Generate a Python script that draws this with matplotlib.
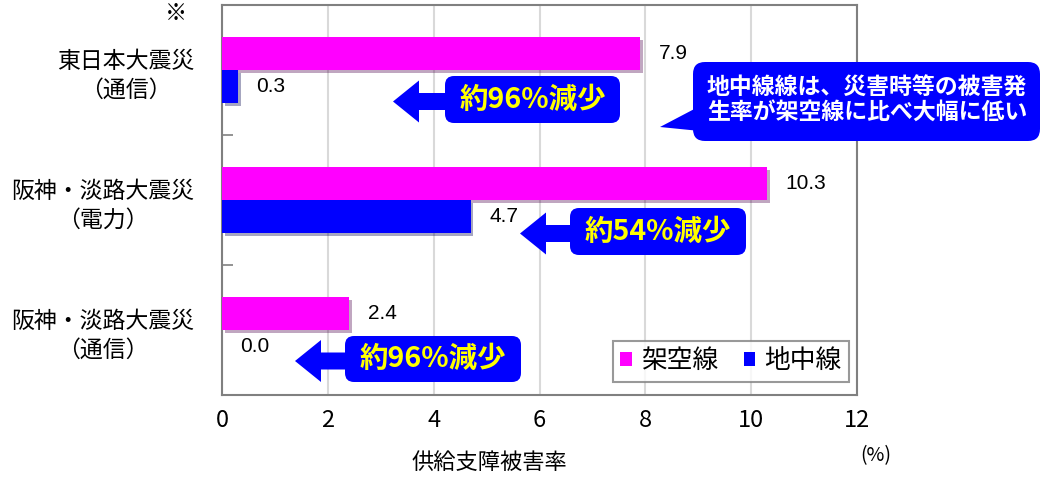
import matplotlib
matplotlib.use("Agg")
import matplotlib.pyplot as plt
from matplotlib.patches import FancyBboxPatch, Polygon
from matplotlib.transforms import IdentityTransform
import matplotlib.patheffects as pe

plt.rcParams['font.family'] = ['Noto Sans CJK JP', 'DejaVu Sans']

categories = ["東日本大震災\n（通信）", "阪神・淡路大震災\n（電力）", "阪神・淡路大震災\n（通信）"]
overhead = [7.9, 10.3, 2.4]     # 架空線
underground = [0.3, 4.7, 0.0]   # 地中線
reductions = ["約96%減少", "約54%減少", "約96%減少"]
series_names = ["架空線", "地中線"]
xticks = [0, 2, 4, 6, 8, 10, 12]

W, H = 1051, 483
fig = plt.figure(figsize=(W / 100, H / 100), dpi=100)
ax = fig.add_axes([222 / W, 1 - 395 / H, (857 - 222) / W, (395 - 5) / H])

MAG = "#FF00FF"
BLU = "#0000FF"
bh = 0.254
ys = list(range(len(categories)))
shadow = [pe.SimplePatchShadow(offset=(2, -2), alpha=0.35), pe.Normal()]
b1 = ax.barh([y - bh / 2 for y in ys], overhead, height=bh, color=MAG, label=series_names[0], zorder=3)
b2 = ax.barh([y + bh / 2 for y in ys], underground, height=bh, color=BLU, label=series_names[1], zorder=3)
for b in list(b1) + list(b2):
    b.set_path_effects(shadow)

for y, v in zip(ys, overhead):
    ax.text(v + 0.35, y - bh / 2, f"{v:.1f}", va="center", ha="left", fontsize=15,
            family="Liberation Sans", zorder=5)
for y, v in zip(ys, underground):
    ax.text(v + 0.35, y + bh / 2, f"{v:.1f}", va="center", ha="left", fontsize=15,
            family="Liberation Sans", zorder=5)

ax.set_xlim(0, 12)
ax.set_ylim(2.5, -0.5)
ax.set_xticks(xticks)
ax.set_xticklabels([str(t) for t in xticks], fontsize=17)
ax.tick_params(axis="x", length=0, pad=10)
ax.set_yticks(ys)
ax.set_yticklabels(categories, fontsize=16.5, linespacing=1.35)
for t in ax.get_yticklabels():
    t.set_multialignment("center")
ax.tick_params(axis="y", which="major", length=0, pad=20)
ax.set_yticks([0.5, 1.5], minor=True)
ax.tick_params(axis="y", which="minor", direction="in", length=8, color="#808080", width=1.2)
ax.grid(axis="x", color="#d9d9d9", linewidth=1.5, zorder=0)
ax.set_axisbelow(True)
for s in ax.spines.values():
    s.set_color("#808080")
    s.set_linewidth(1.5)

fig.text(489 / W, 1 - 462 / H, "供給支障被害率", fontsize=16, ha="center", va="center")
fig.text(876 / W, 1 - 456 / H, "(%)", fontsize=14, ha="center", va="center")
fig.text(176 / W, 1 - 13 / H, "※", fontsize=16, ha="center", va="center")

leg = ax.legend(loc="lower right", bbox_to_anchor=(0.988, 0.033), ncol=2, fontsize=18.5,
                frameon=True, fancybox=False, edgecolor="#808080", handlelength=0.45,
                handleheight=0.45, handletextpad=0.35, columnspacing=1.0, borderpad=0.3,
                borderaxespad=0)
leg.get_frame().set_linewidth(1.5)
for h in leg.legend_handles:
    h.set_path_effects([])

ident = IdentityTransform()

def px(x, y):
    return x, H - y

def arrow(tip_x, cy, end_x):
    pts = [px(tip_x, cy), px(tip_x + 26, cy - 21), px(tip_x + 26, cy - 8.5),
           px(end_x, cy - 8.5), px(end_x, cy + 8.5), px(tip_x + 26, cy + 8.5),
           px(tip_x + 26, cy + 21)]
    fig.patches.append(Polygon(pts, closed=True, transform=ident, fc=BLU, ec="none", zorder=6))

def box(x0, y0, x1, y1, r=9):
    p = FancyBboxPatch((x0 + r, H - y1 + r), (x1 - x0) - 2 * r, (y1 - y0) - 2 * r,
                       boxstyle=f"round,pad={r}", transform=ident, fc=BLU, ec="none", zorder=6)
    fig.patches.append(p)

# reduction annotations
boxes = [(445, 76, 620, 123, 393), (570, 208, 746, 255, 520), (345, 336, 521, 382, 295)]
for (x0, y0, x1, y1, tip), lab in zip(boxes, reductions):
    cy = (y0 + y1) / 2
    arrow(tip, cy + 2, x0 + 2)
    box(x0, y0, x1, y1)
    fig.text((x0 + x1) / 2 / W, 1 - cy / H, lab, fontsize=20.5, fontweight="bold", color="#FFFF00",
             ha="center", va="center", zorder=7)

# callout
box(693, 62, 1040, 141, r=12)
fig.patches.append(Polygon([px(700, 106), px(660, 127), px(700, 131)], closed=True,
                           transform=ident, fc=BLU, ec="none", zorder=6))
fig.text(867 / W, 1 - 101 / H, "地中線線は、災害時等の被害発\n生率が架空線に比べ大幅に低い", fontsize=16.5,
         fontweight="bold", color="white", ha="center", va="center", linespacing=1.1, zorder=7)

fig.savefig("out.png", dpi=100)
